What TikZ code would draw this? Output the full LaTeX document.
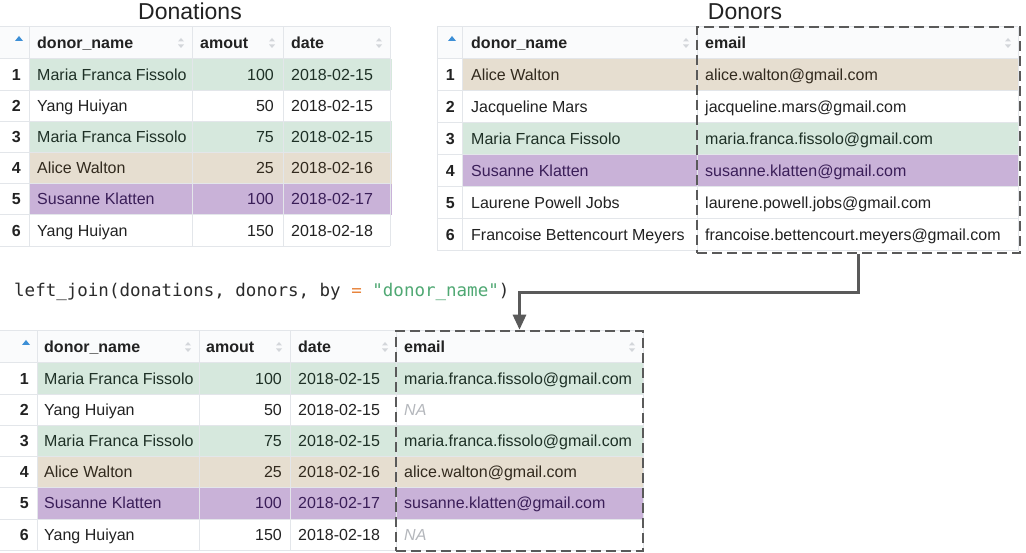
\documentclass[tikz,border=0pt]{standalone}
\usepackage{fontspec}
\setmainfont{Liberation Sans}
\setmonofont{DejaVu Sans Mono}
\usetikzlibrary{arrows.meta}

\definecolor{celltext}{HTML}{222222}
\definecolor{gridline}{HTML}{E3E6EA}
\definecolor{headfill}{HTML}{FAFBFC}
\definecolor{sortgray}{HTML}{D3D6DA}
\definecolor{sortblue}{HTML}{3D8FD6}
\definecolor{boxgray}{HTML}{5A5A5A}
\definecolor{nagray}{HTML}{B4B7BC}
\definecolor{bandgreen}{RGB}{214,232,221}
\definecolor{bandtan}{RGB}{230,222,208}
\definecolor{bandpurple}{RGB}{201,178,216}
\definecolor{inknone}{HTML}{222222}
\definecolor{inkbandgreen}{RGB}{30,48,38}
\definecolor{inkbandtan}{RGB}{50,42,30}
\definecolor{inkbandpurple}{RGB}{58,30,88}
\definecolor{codetext}{HTML}{2B2B2B}
\definecolor{codeorange}{HTML}{E8843C}
\definecolor{codegreen}{HTML}{4FA873}

\newcommand{\cellfont}{\fontsize{16}{19}\selectfont}
\newcommand{\namark}{\textcolor{nagray}{\itshape NA}}
% little up/down arrows of a sortable column
\newcommand{\sortpair}[2]{%
	\fill[sortgray] (#1-3,#2-1.5) -- (#1+3,#2-1.5) -- (#1,#2-5) -- cycle;
	\fill[sortgray] (#1-3,#2+1.5) -- (#1+3,#2+1.5) -- (#1,#2+5) -- cycle;}
\newcommand{\sortup}[2]{%
	\fill[sortblue] (#1-4,#2+2) -- (#1+4,#2+2) -- (#1,#2-3) -- cycle;}

\tikzset{
	cell/.style={anchor=base west, inner sep=0pt, font=\cellfont, text=celltext},
	numcell/.style={anchor=base east, inner sep=0pt, font=\cellfont, text=celltext},
	idxcell/.style={anchor=base east, inner sep=0pt, font=\cellfont\bfseries, text=celltext},
	headcell/.style={anchor=base west, inner sep=0pt, font=\cellfont\bfseries, text=celltext},
	grid/.style={draw=gridline, line width=1pt},
	selbox/.style={draw=boxgray, line width=2.6pt, dash pattern=on 10pt off 5pt, inner sep=0pt},
	flow/.style={draw=boxgray, line width=2.8pt, -{Triangle[width=13pt,length=15pt]}},
	tabletitle/.style={anchor=base, inner sep=0pt, font=\fontsize{23}{26}\selectfont, text=celltext},
}

\begin{document}
\begin{tikzpicture}[x=1pt, y=-1pt]
	\useasboundingbox (0,0) rectangle (1026,553);
	\fill[white] (0,0) rectangle (1026,553);

	% donations
	\node[tabletitle] (donationstitle) at (190,20) {Donations};
	\fill[headfill] (0,27) rectangle (390,59);
	\foreach \i/\band in {1/bandgreen,3/bandgreen,4/bandtan,5/bandpurple}
		\fill[\band] (29,59+31.2*\i-31.2) rectangle (392,59+31.2*\i);
	\draw[grid] (0,27) -- (390,27);
	\foreach \k in {0,...,6}
		\draw[grid] (0,59+31.2*\k) -- (390,59+31.2*\k);
	\foreach \x in {29,192,283,390}
		\draw[grid] (\x,27) -- (\x,246.2);
	\sortup{19}{39}
	\sortpair{181}{43}
	\sortpair{272}{43}
	\sortpair{379}{43}
	\node[headcell] (dn-h-name) at (37,48.5) {donor\_name};
	\node[headcell] (dn-h-amt) at (200,48.5) {amout};
	\node[headcell] (dn-h-date) at (291,48.5) {date};
	\foreach \i/\name/\amt/\day/\band in {
		1/Maria Franca Fissolo/100/2018-02-15/bandgreen,
		2/Yang Huiyan/50/2018-02-15/none,
		3/Maria Franca Fissolo/75/2018-02-15/bandgreen,
		4/Alice Walton/25/2018-02-16/bandtan,
		5/Susanne Klatten/100/2018-02-17/bandpurple,
		6/Yang Huiyan/150/2018-02-18/none}{
		\pgfmathsetmacro{\yc}{59+31.2*(\i-0.5)}
		\node[idxcell] (dn-\i-idx) at (21,\yc+5.5) {\i};
		\node[cell, text=ink\band] (dn-\i-name) at (37,\yc+5.5) {\name};
		\node[numcell, text=ink\band] (dn-\i-amt) at (274,\yc+5.5) {\amt};
		\node[cell, text=ink\band] (dn-\i-date) at (291,\yc+5.5) {\day};
	}

	% donors
	\node[tabletitle] (donorstitle) at (745,20) {Donors};
	\fill[headfill] (437,27) rectangle (1018,59);
	\foreach \i/\band in {1/bandtan,3/bandgreen,4/bandpurple}
		\fill[\band] (462,59+32*\i-32) rectangle (1018,59+32*\i);
	\draw[grid] (437,27) -- (1018,27);
	\foreach \k in {0,...,6}
		\draw[grid] (437,59+32*\k) -- (1018,59+32*\k);
	\foreach \x in {437,462,697,1018}
		\draw[grid] (\x,27) -- (\x,251);
	\sortup{452}{39}
	\sortpair{686}{43}
	\sortpair{1008}{43}
	\node[headcell] (dr-h-name) at (471,48.5) {donor\_name};
	\node[headcell] (dr-h-mail) at (705,48.5) {email};
	\foreach \i/\name/\mail/\band in {
		1/Alice Walton/alice.walton@gmail.com/bandtan,
		2/Jacqueline Mars/jacqueline.mars@gmail.com/none,
		3/Maria Franca Fissolo/maria.franca.fissolo@gmail.com/bandgreen,
		4/Susanne Klatten/susanne.klatten@gmail.com/bandpurple,
		5/Laurene Powell Jobs/laurene.powell.jobs@gmail.com/none,
		6/Francoise Bettencourt Meyers/francoise.bettencourt.meyers@gmail.com/none}{
		\pgfmathsetmacro{\yc}{59+32*(\i-0.5)}
		\node[idxcell] (dr-\i-idx) at (455,\yc+5.5) {\i};
		\node[cell, text=ink\band] (dr-\i-name) at (471,\yc+5.5) {\name};
		\node[cell, text=ink\band] (dr-\i-mail) at (705,\yc+5.5) {\mail};
	}

	% the call
	\node[
		anchor=base west,
		inner sep=0pt,
		font=\fontsize{17.5}{20}\ttfamily,
		text=codetext
	] (joincall) at (14,297) {left\_join(donations, donors, by {\color{codeorange}=} {\color{codegreen}"donor\_name"})};

	% joined table
	\fill[headfill] (0,331) rectangle (643,363);
	\foreach \i/\band in {1/bandgreen,3/bandgreen,4/bandtan,5/bandpurple}
		\fill[\band] (37,363+31.2*\i-31.2) rectangle (643,363+31.2*\i);
	\draw[grid] (0,331) -- (643,331);
	\foreach \k in {0,...,6}
		\draw[grid] (0,363+31.2*\k) -- (643,363+31.2*\k);
	\foreach \x in {37,199,290,396,643}
		\draw[grid] (\x,331) -- (\x,550.2);
	\sortup{26}{343}
	\sortpair{188}{347}
	\sortpair{279}{347}
	\sortpair{385}{347}
	\sortpair{632}{347}
	\node[headcell] (lj-h-name) at (44,352.5) {donor\_name};
	\node[headcell] (lj-h-amt) at (206,352.5) {amout};
	\node[headcell] (lj-h-date) at (298,352.5) {date};
	\node[headcell] (lj-h-mail) at (404,352.5) {email};
	\foreach \i/\name/\amt/\day/\mail/\band in {
		1/Maria Franca Fissolo/100/2018-02-15/maria.franca.fissolo@gmail.com/bandgreen,
		2/Yang Huiyan/50/2018-02-15/\namark/none,
		3/Maria Franca Fissolo/75/2018-02-15/maria.franca.fissolo@gmail.com/bandgreen,
		4/Alice Walton/25/2018-02-16/alice.walton@gmail.com/bandtan,
		5/Susanne Klatten/100/2018-02-17/susanne.klatten@gmail.com/bandpurple,
		6/Yang Huiyan/150/2018-02-18/\namark/none}{
		\pgfmathsetmacro{\yc}{363+31.2*(\i-0.5)}
		\node[idxcell] (lj-\i-idx) at (29,\yc+5.5) {\i};
		\node[cell, text=ink\band] (lj-\i-name) at (44,\yc+5.5) {\name};
		\node[numcell, text=ink\band] (lj-\i-amt) at (282,\yc+5.5) {\amt};
		\node[cell, text=ink\band] (lj-\i-date) at (298,\yc+5.5) {\day};
		\node[cell, text=ink\band] (lj-\i-mail) at (404,\yc+5.5) {\mail};
	}

	% selected column and where it goes
	\node[
		selbox,
		minimum width=323,
		minimum height=226
	] (donorsmail) at (858.5,140) {};
	\node[
		selbox,
		minimum width=247,
		minimum height=220
	] (joinedmail) at (519.5,441) {};
	\draw[flow] (donorsmail.south) -- ++(0,38) -| (joinedmail.north);
\end{tikzpicture}
\end{document}
